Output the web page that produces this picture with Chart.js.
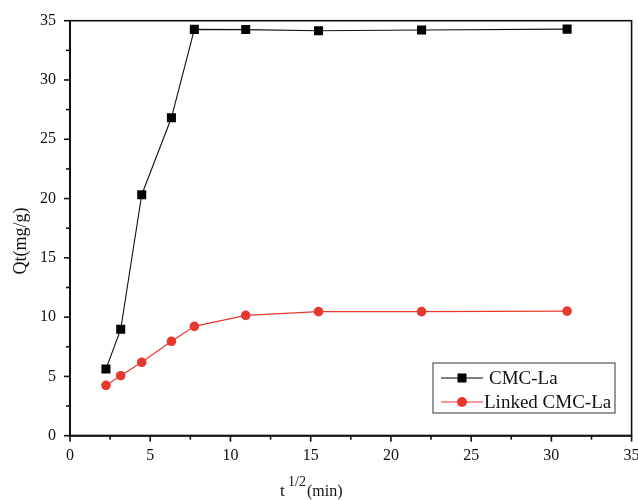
<!DOCTYPE html>
<html>
<head>
<meta charset="utf-8">
<script src="https://cdn.jsdelivr.net/npm/chart.js@4.4.1/dist/chart.umd.min.js"></script>
<style>
html,body{margin:0;padding:0;background:#fff;}
#wrap{width:638px;height:500px;position:relative;}
</style>
</head>
<body>
<div id="wrap"><canvas id="c" width="638" height="500"></canvas></div>
<script>
// Data
const timeMin = [5, 10, 20, 40, 60, 120, 240, 480, 960];
const sqrtT = [2.24, 3.16, 4.47, 6.32, 7.75, 10.95, 15.49, 21.91, 30.98];
const cmcLa = [5.62, 8.97, 20.32, 26.81, 34.27, 34.25, 34.15, 34.22, 34.29];
const linkedCmcLa = [4.25, 5.06, 6.19, 7.96, 9.22, 10.15, 10.46, 10.46, 10.51];
const seriesNames = ['CMC-La', 'Linked CMC-La'];
const xTicks = [0, 5, 10, 15, 20, 25, 30, 35];
const yTicks = [0, 5, 10, 15, 20, 25, 30, 35];

const FONT = "'Liberation Serif', 'Times New Roman', serif";
const RED = '#e8372f';

const frame = {
  id: 'frame',
  afterDraw(chart) {
    const {ctx, chartArea: a, scales} = chart;
    ctx.save();
    // frame
    ctx.strokeStyle = '#111';
    ctx.lineWidth = 1.6;
    ctx.strokeRect(a.left, a.top, a.right - a.left, a.bottom - a.top);
    ctx.lineWidth = 2;
    ctx.beginPath();
    ctx.moveTo(a.left, a.top); ctx.lineTo(a.left, a.bottom); ctx.lineTo(a.right, a.bottom);
    ctx.stroke();
    // ticks
    ctx.lineWidth = 1.6;
    const xs = scales.x, ys = scales.y;
    for (let v = 0; v <= 35; v += 2.5) {
      const major = v % 5 === 0;
      const len = major ? 6 : 4;
      const px = xs.getPixelForValue(v);
      ctx.beginPath(); ctx.moveTo(px, a.bottom); ctx.lineTo(px, a.bottom + len); ctx.stroke();
      const py = ys.getPixelForValue(v);
      ctx.beginPath(); ctx.moveTo(a.left, py); ctx.lineTo(a.left - len, py); ctx.stroke();
    }
    // tick labels
    ctx.fillStyle = '#111';
    ctx.font = '16px ' + FONT;
    ctx.textAlign = 'center'; ctx.textBaseline = 'middle';
    xTicks.forEach(v => ctx.fillText(String(v), xs.getPixelForValue(v), a.bottom + 20));
    ctx.textAlign = 'right';
    yTicks.forEach(v => ctx.fillText(String(v), a.left - 14, ys.getPixelForValue(v)));
    // axis titles
    ctx.textAlign = 'left'; ctx.textBaseline = 'alphabetic';
    ctx.font = '17px ' + FONT;
    ctx.fillText('t', 280, 496);
    ctx.font = '14px ' + FONT;
    ctx.fillText('1/2', 288, 486);
    ctx.font = '16px ' + FONT;
    ctx.fillText('(min)', 307, 496);
    ctx.save();
    ctx.translate(26, 241);
    ctx.rotate(-Math.PI / 2);
    ctx.textAlign = 'center';
    ctx.font = '18px ' + FONT;
    ctx.fillText('Qt(mg/g)', 0, 0);
    ctx.restore();
    // legend
    const lx = 433, ly = 363, lw = 182, lh = 50;
    ctx.strokeStyle = '#333'; ctx.lineWidth = 1;
    ctx.strokeRect(lx, ly, lw, lh);
    const rows = [
      {y: 378, color: '#000', shape: 'rect', text: seriesNames[0], tx: 489},
      {y: 402, color: RED, shape: 'circle', text: seriesNames[1], tx: 484}
    ];
    rows.forEach(r => {
      ctx.strokeStyle = r.color; ctx.lineWidth = 1.1;
      ctx.beginPath(); ctx.moveTo(441, r.y); ctx.lineTo(483, r.y); ctx.stroke();
      ctx.fillStyle = r.color;
      if (r.shape === 'rect') ctx.fillRect(457.5, r.y - 4.5, 9, 9);
      else { ctx.beginPath(); ctx.arc(462, r.y, 5, 0, Math.PI * 2); ctx.fill(); }
      ctx.fillStyle = '#111';
      ctx.font = '19px ' + FONT;
      ctx.textAlign = 'left'; ctx.textBaseline = 'middle';
      ctx.fillText(r.text, r.tx, r.y + 1);
    });
    ctx.restore();
  }
};

new Chart(document.getElementById('c'), {
  type: 'scatter',
  data: {
    datasets: [
      {
        label: seriesNames[0],
        data: sqrtT.map((x, i) => ({x, y: cmcLa[i]})),
        showLine: true,
        borderColor: '#111',
        borderWidth: 1.1,
        backgroundColor: '#000',
        pointStyle: 'rect',
        pointRadius: 6.4,
        pointBorderWidth: 0,
        tension: 0
      },
      {
        label: seriesNames[1],
        data: sqrtT.map((x, i) => ({x, y: linkedCmcLa[i]})),
        showLine: true,
        borderColor: RED,
        borderWidth: 1.1,
        backgroundColor: RED,
        pointStyle: 'circle',
        pointRadius: 4.8,
        pointBorderWidth: 0,
        tension: 0
      }
    ]
  },
  options: {
    responsive: false,
    animation: false,
    devicePixelRatio: 1,
    layout: {padding: {left: 0, right: 6, top: 20.7, bottom: 0}},
    plugins: {legend: {display: false}, tooltip: {enabled: false}},
    scales: {
      x: {
        type: 'linear', min: 0, max: 35,
        grid: {display: false}, border: {display: false},
        ticks: {display: false},
        afterFit(s) { s.height = 500 - 435.7; }
      },
      y: {
        type: 'linear', min: 0, max: 35,
        grid: {display: false}, border: {display: false},
        ticks: {display: false},
        afterFit(s) { s.width = 70; }
      }
    }
  },
  plugins: [frame]
});
</script>
</body>
</html>
